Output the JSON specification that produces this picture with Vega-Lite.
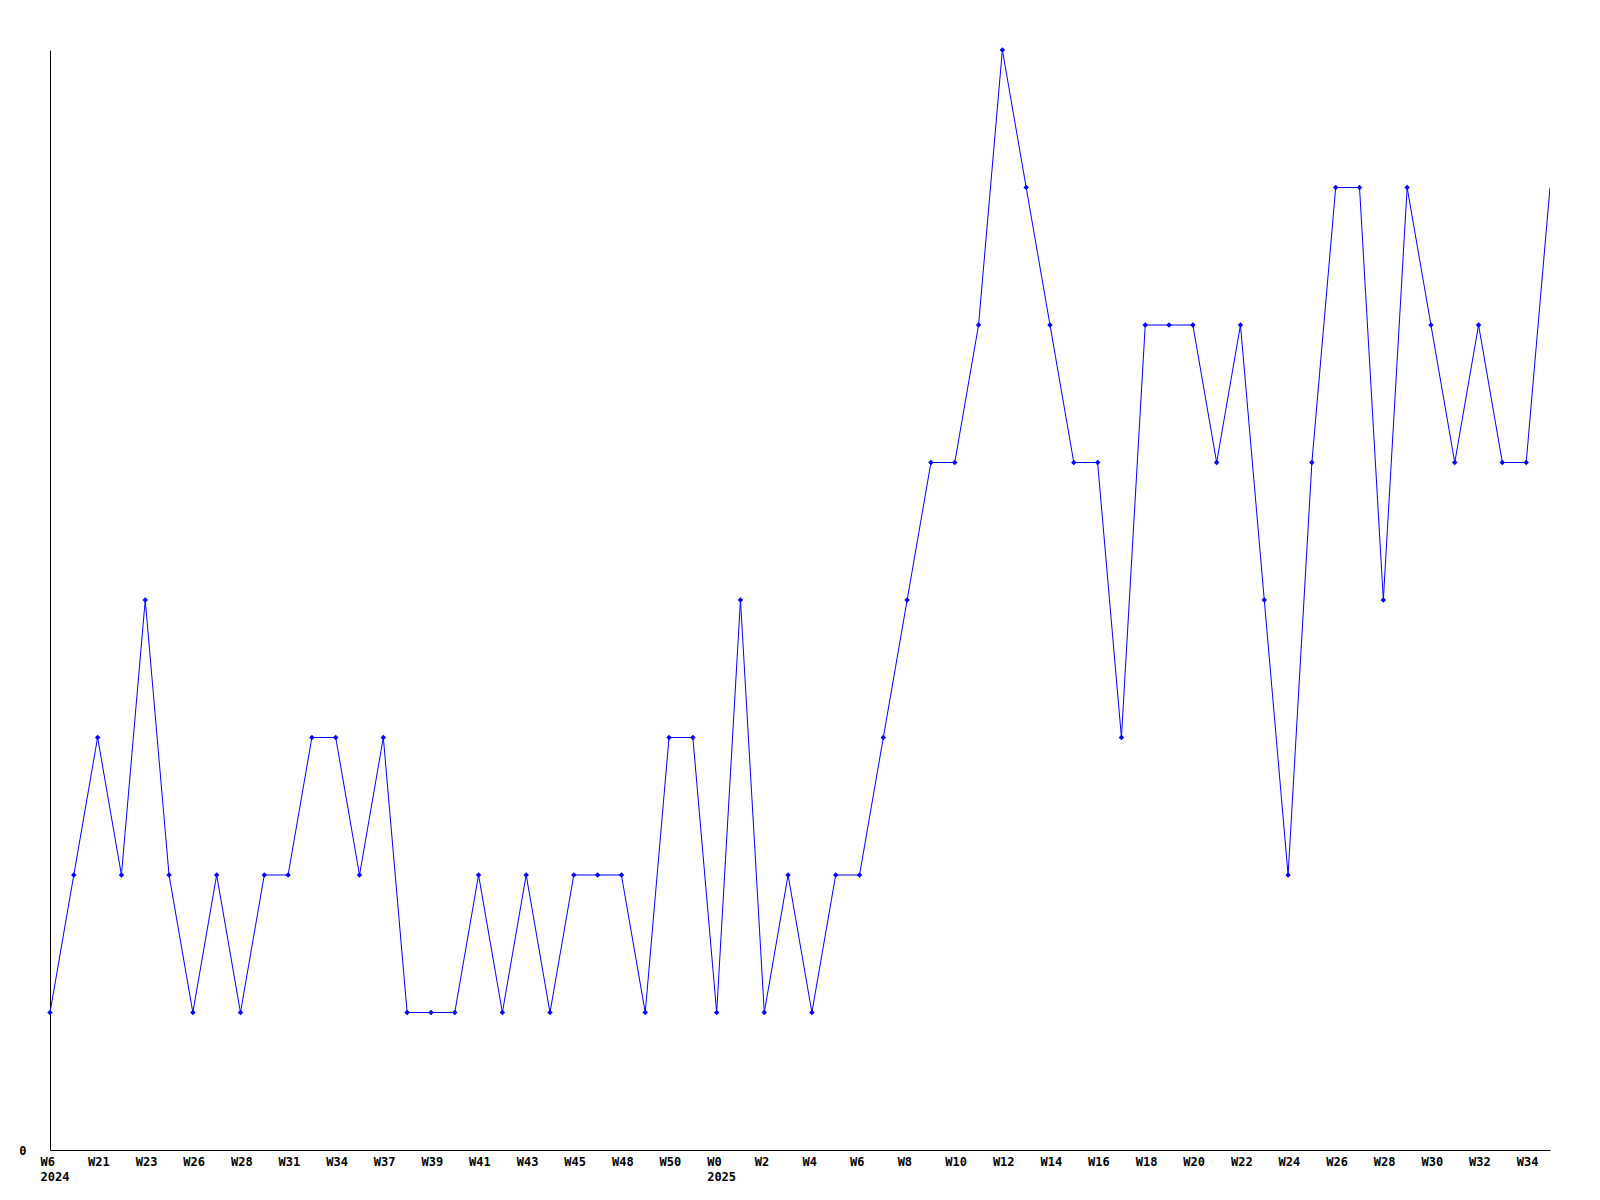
{
  "$schema": "https://vega.github.io/schema/vega-lite/v6.json",
  "autosize": "none",
  "width": 1500,
  "height": 1100,
  "padding": {"left": 50, "top": 50, "right": 50, "bottom": 50},
  "background": "white",
  "config": {"view": {"stroke": null}},
  "data": {"values": [
    {"i":0,"v":1},{"i":1,"v":2},{"i":2,"v":3},{"i":3,"v":2},{"i":4,"v":4},{"i":5,"v":2},{"i":6,"v":1},{"i":7,"v":2},
    {"i":8,"v":1},{"i":9,"v":2},{"i":10,"v":2},{"i":11,"v":3},{"i":12,"v":3},{"i":13,"v":2},{"i":14,"v":3},{"i":15,"v":1},
    {"i":16,"v":1},{"i":17,"v":1},{"i":18,"v":2},{"i":19,"v":1},{"i":20,"v":2},{"i":21,"v":1},{"i":22,"v":2},{"i":23,"v":2},
    {"i":24,"v":2},{"i":25,"v":1},{"i":26,"v":3},{"i":27,"v":3},{"i":28,"v":1},{"i":29,"v":4},{"i":30,"v":1},{"i":31,"v":2},
    {"i":32,"v":1},{"i":33,"v":2},{"i":34,"v":2},{"i":35,"v":3},{"i":36,"v":4},{"i":37,"v":5},{"i":38,"v":5},{"i":39,"v":6},
    {"i":40,"v":8},{"i":41,"v":7},{"i":42,"v":6},{"i":43,"v":5},{"i":44,"v":5},{"i":45,"v":3},{"i":46,"v":6},{"i":47,"v":6},
    {"i":48,"v":6},{"i":49,"v":5},{"i":50,"v":6},{"i":51,"v":4},{"i":52,"v":2},{"i":53,"v":5},{"i":54,"v":7},{"i":55,"v":7},
    {"i":56,"v":4},{"i":57,"v":7},{"i":58,"v":6},{"i":59,"v":5},{"i":60,"v":6},{"i":61,"v":5},{"i":62,"v":5},{"i":63,"v":7}
  ]},
  "encoding": {
    "x": {"field": "i", "type": "quantitative",
      "scale": {"domain": [0, 63], "nice": false, "zero": false},
      "axis": {"title": null, "grid": false, "ticks": false, "domainColor": "black", "domainWidth": 1,
        "values": [0,2,4,6,8,10,12,14,16,18,20,22,24,26,28,30,32,34,36,38,40,42,44,46,48,50,52,54,56,58,60,62],
        "labelExpr": "[['W6','2024'],'W21','W23','W26','W28','W31','W34','W37','W39','W41','W43','W45','W48','W50',['W0','2025'],'W2','W4','W6','W8','W10','W12','W14','W16','W18','W20','W22','W24','W26','W28','W30','W32','W34'][datum.value/2]",
        "labelFont": "DejaVu Sans Mono", "labelFontWeight": "bold", "labelFontSize": 12, "labelColor": "black",
        "labelAlign": "left", "labelOffset": -10, "labelBaseline": "top", "labelPadding": 6, "labelLineHeight": 15,
        "labelOverlap": false, "labelFlush": false}},
    "y": {"field": "v", "type": "quantitative",
      "scale": {"domain": [0, 8], "nice": false},
      "axis": {"title": null, "grid": false, "ticks": false, "domainColor": "black", "domainWidth": 1,
        "values": [0], "labelFont": "DejaVu Sans Mono", "labelFontWeight": "bold", "labelFontSize": 12,
        "labelColor": "black", "labelPadding": 24}}
  },
  "layer": [
    {"mark": {"type": "line", "color": "#0000ff", "strokeWidth": 1, "clip": true}},
    {"transform": [{"filter": "datum.i < 63"}],
     "mark": {"type": "point", "shape": "diamond", "filled": true, "color": "#0000ff", "size": 30, "opacity": 1}}
  ]
}
